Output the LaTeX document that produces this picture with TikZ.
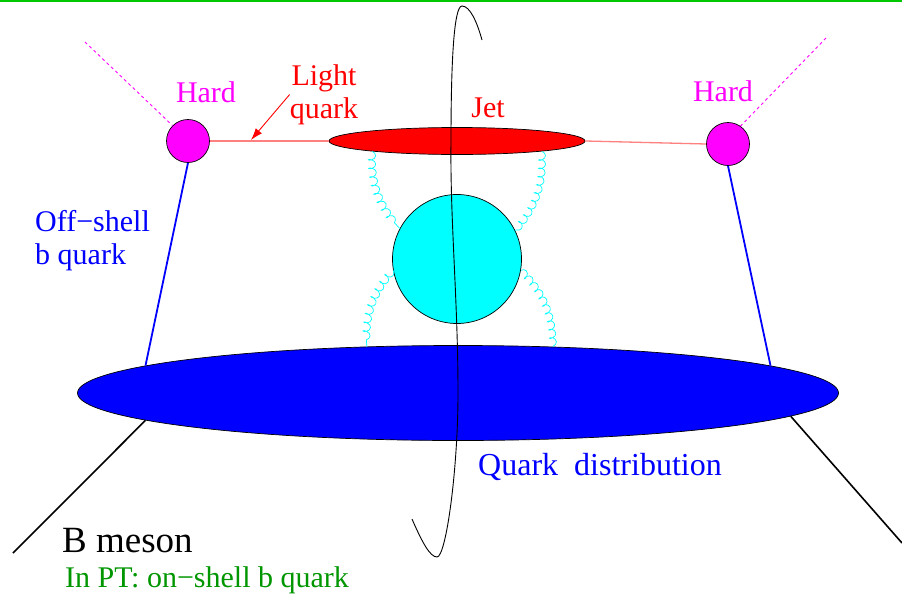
\documentclass[tikz,border=0pt]{standalone}
\usepackage{tikz}
\usetikzlibrary{shapes.geometric, arrows.meta, decorations.pathmorphing}
\usepackage{xcolor}
\usepackage{fontspec}
\setmainfont{Liberation Serif}
\definecolor{hardpink}{RGB}{255,0,255}
\definecolor{jetred}{RGB}{255,0,0}
\definecolor{lightline}{RGB}{255,128,128}
\definecolor{blobcyan}{RGB}{0,255,255}
\definecolor{quarkblue}{RGB}{0,0,255}
\definecolor{ptgreen}{RGB}{0,150,0}
\definecolor{topgreen}{RGB}{0,200,0}

\begin{document}
\begin{tikzpicture}[x=1pt, y=-1pt,
    lbl/.style={font=\fontsize{30}{33}\selectfont, inner sep=0pt},
    hardvertex/.style={circle, draw=black, line width=0.7pt, fill=hardpink,
      minimum size=43pt, inner sep=0pt},
    gluon/.style={draw=blobcyan, line width=0.7pt, decorate,
      decoration={coil, aspect=0.6, segment length=8.5pt, amplitude=3.5pt}},
    lightq/.style={draw=lightline, line width=1.3pt},
    offshell/.style={draw=quarkblue, line width=1.8pt},
    mesonleg/.style={draw=black, line width=1.6pt},
    hardleg/.style={draw=hardpink, line width=0.9pt, dash pattern=on 3pt off 3pt}]
  \useasboundingbox (0,0) rectangle (902,597);
  \draw[topgreen, line width=2.5pt] (0,1) -- (902,1);

  % blobs
  \node[ellipse, draw=black, line width=0.7pt, fill=jetred,
        minimum width=256pt, minimum height=27pt, inner sep=0pt] (jet) at (457,141) {};
  \node[circle, draw=black, line width=0.7pt, fill=blobcyan,
        minimum size=129pt, inner sep=0pt] (soft) at (457,259) {};
  \node[ellipse, draw=black, line width=0.7pt, fill=quarkblue,
        minimum width=761pt, minimum height=95pt, inner sep=0pt] (qdist) at (458,393) {};
  \node[hardvertex] (hardL) at (188,141) {};
  \node[hardvertex] (hardR) at (728,144) {};

  % free ends
  \coordinate (photL) at (85,42);
  \coordinate (photR) at (826,38);
  \coordinate (mesonL) at (13,553);
  \coordinate (mesonR) at (902,543);
  \coordinate (lqtip) at (251,140);

  % lines
  \draw[lightq] (hardL.east) -- (jet.west);
  \draw[lightq] (jet.east) -- (hardR.west);
  \draw[hardleg] (photL) -- (hardL.135);
  \draw[hardleg] (photR) -- (hardR.55);
  \draw[offshell] (hardL.south) -- (qdist.175);
  \draw[offshell] (hardR.south) -- (qdist.5);
  \draw[mesonleg] (qdist.185) -- (mesonL);
  \draw[mesonleg] (qdist.356) -- (mesonR);

  % gluons
  \draw[gluon] (jet.187) to[bend right=22] (soft.152);
  \draw[gluon] (jet.353) to[bend left=22] (soft.26);
  \draw[gluon] (soft.190) to[bend right=22] (qdist.153);
  \draw[gluon] (soft.350) to[bend left=22] (qdist.26);

  % cut
  \draw[black, line width=0.9pt] (412,519) .. controls (422,542) and (430,557) .. (437,557)
    .. controls (446,557) and (458,470) .. (458,393)
    .. controls (458,300) and (450,220) .. (451,141)
    .. controls (451,60) and (454,6) .. (462,6)
    .. controls (470,6) and (477,22) .. (482,40);

  % labels
  \node[lbl, text=hardpink, anchor=base] (hardLtxt) at (206,102) {Hard};
  \node[lbl, text=hardpink, anchor=base] (hardRtxt) at (723,101) {Hard};
  \node[lbl, text=jetred, align=center] (light) at (324,94.5) {Light\\quark};
  \node[lbl, text=jetred, anchor=base] (jettxt) at (488,117) {Jet};
  \node[lbl, text=quarkblue, align=left, anchor=west] (offtxt) at (35,241) {Off−shell\\b quark};
  \node[lbl, font=\fontsize{32}{36}\selectfont, text=quarkblue, anchor=base] (qdtxt) at (600,475) {Quark~~distribution};
  \node[lbl, font=\fontsize{37}{40}\selectfont, anchor=base west] (btxt) at (62,552) {B meson};
  \node[lbl, text=ptgreen, anchor=base west] (pttxt) at (65,587) {In PT: on−shell b quark};

  \draw[jetred, line width=0.9pt, -{Latex[length=12pt, width=8pt]}] (light.west) -- (lqtip);
\end{tikzpicture}
\end{document}
